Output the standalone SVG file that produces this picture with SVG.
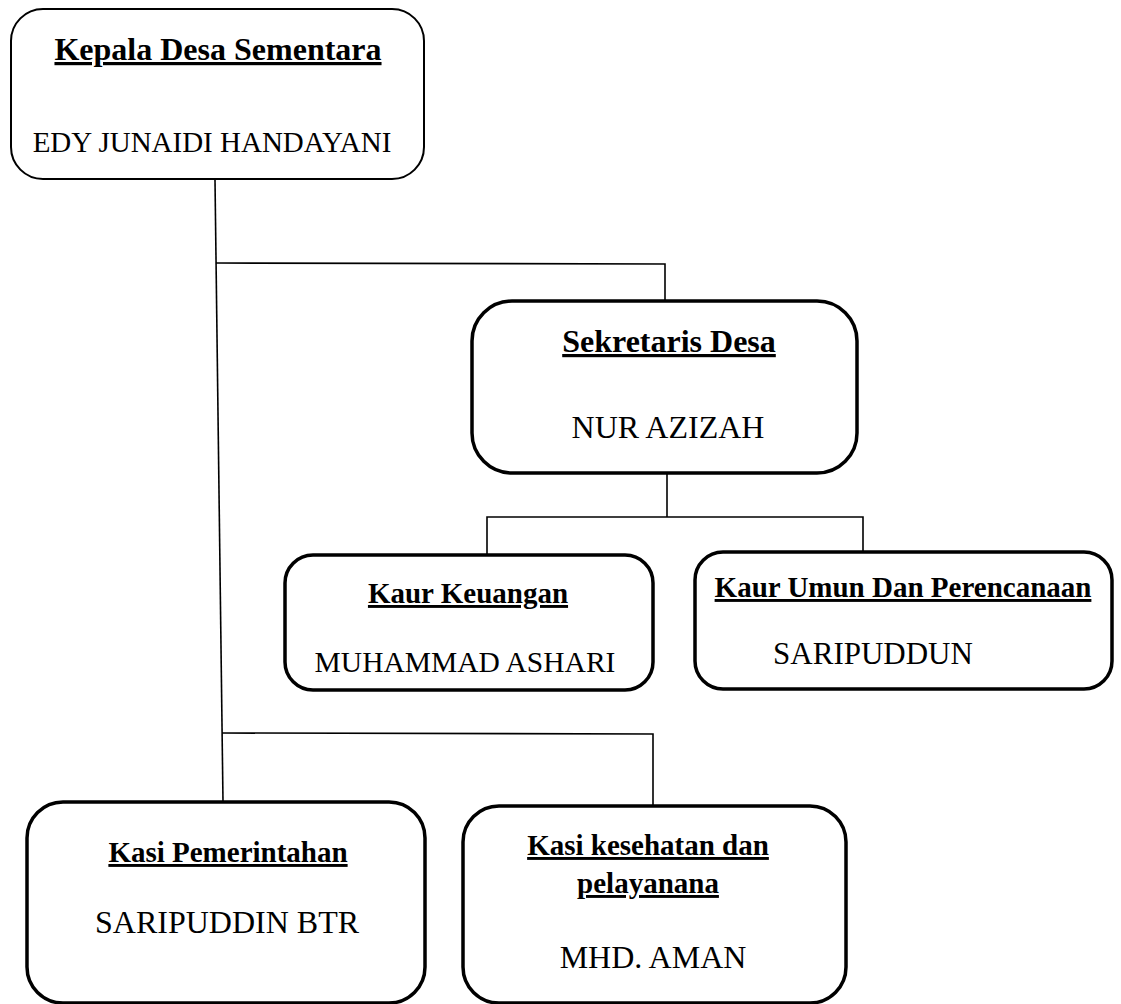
<svg xmlns="http://www.w3.org/2000/svg" width="1121" height="1004" viewBox="0 0 1121 1004">
<style>
.box{fill:#fff;stroke:#000;stroke-width:3.5}
.thin{stroke-width:2}
.conn line,.conn polyline{stroke:#000;stroke-width:1.6;fill:none}
.t{font-family:"Liberation Serif","Times New Roman",serif;font-weight:bold;text-decoration:underline;fill:#000;text-anchor:middle}
.n{font-family:"Liberation Serif","Times New Roman",serif;fill:#000;text-anchor:middle}
</style>
<rect width="1121" height="1004" fill="#fff"/>
<g id="connectors" class="conn">
<line x1="215" y1="180" x2="223" y2="802"/>
<polyline points="216,263 665,264 665,301"/>
<line x1="667" y1="473" x2="667" y2="517"/>
<polyline points="487,555 487,517 863,517 863,552"/>
<polyline points="222,733 653,734 653,806"/>
</g>
<g id="kepala">
<rect class="box thin" x="11" y="9" width="413" height="170" rx="32"/>
<text class="t" x="218" y="60" font-size="32">Kepala Desa Sementara</text>
<text class="n" x="212" y="152" font-size="29">EDY JUNAIDI HANDAYANI</text>
</g>
<g id="sekretaris">
<rect class="box" x="472" y="301" width="385" height="172" rx="40"/>
<text class="t" x="669" y="352" font-size="32">Sekretaris Desa</text>
<text class="n" x="668" y="438" font-size="32">NUR AZIZAH</text>
</g>
<g id="kaur-keuangan">
<rect class="box" x="285" y="555" width="368" height="135" rx="28"/>
<text class="t" x="468" y="603" font-size="29">Kaur Keuangan</text>
<text class="n" x="465" y="672" font-size="29.5">MUHAMMAD ASHARI</text>
</g>
<g id="kaur-umum">
<rect class="box" x="695" y="552" width="417" height="137" rx="28"/>
<text class="t" x="903" y="597" font-size="29">Kaur Umun Dan Perencanaan</text>
<text class="n" x="873" y="664" font-size="31">SARIPUDDUN</text>
</g>
<g id="kasi-pemerintahan">
<rect class="box" x="27" y="802" width="398" height="201" rx="36"/>
<text class="t" x="228" y="862" font-size="29">Kasi Pemerintahan</text>
<text class="n" x="227" y="933" font-size="32">SARIPUDDIN BTR</text>
</g>
<g id="kasi-kesehatan">
<rect class="box" x="463" y="806" width="383" height="197" rx="36"/>
<text class="t" x="648" y="855" font-size="29">Kasi kesehatan dan</text>
<text class="t" x="648" y="893" font-size="29">pelayanana</text>
<text class="n" x="653" y="968" font-size="32">MHD. AMAN</text>
</g>
</svg>
